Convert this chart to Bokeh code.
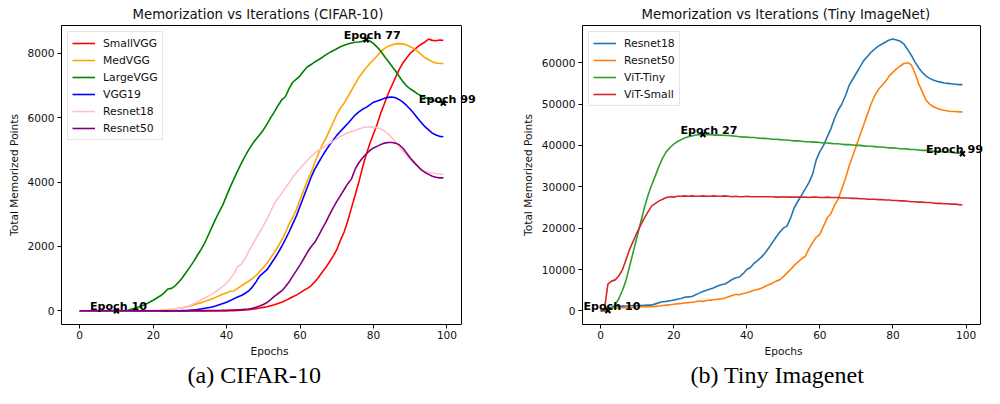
from bokeh.plotting import figure
from bokeh.models import (Range1d, FixedTicker, Legend, LegendItem, Label, Title,
                          BasicTickFormatter, LinearAxis, Span)
from bokeh.layouts import row
from bokeh.embed import file_html
from bokeh.resources import INLINE

epochs = list(range(100))

# ---------------- CIFAR-10 ----------------
small_vgg = [0, 0, 0, 0, 0, 0, 0, 0, 0, 0,
             0, 0, 0, 0, 0, 0, 0, 0, 0, 0,
             0, 0, 0, 0, 0, 0, 0, 0, 0, 0,
             0, 0, 0, 0, 0, 0, 0, 0, 0, 0,
             0, 5, 10, 15, 20, 30, 40, 50, 70, 90,
             110, 130, 160, 190, 230, 270, 320, 380, 440, 490,
             560, 640, 700, 780, 900, 1040, 1200, 1350, 1520, 1700,
             1900, 2200, 2450, 2800, 3200, 3600, 4000, 4450, 4850, 5200,
             5500, 5800, 6150, 6450, 6750, 7000, 7250, 7500, 7700, 7850,
             8000, 8100, 8200, 8280, 8350, 8440, 8400, 8390, 8410, 8400]
med_vgg = [0, 0, 0, 0, 0, 0, 0, 0, 0, 0,
           0, 0, 0, 0, 0, 0, 0, 5, 5, 5,
           10, 15, 20, 30, 40, 50, 60, 80, 100, 125,
           150, 180, 220, 250, 290, 330, 370, 420, 470, 520,
           560, 610, 620, 700, 780, 850, 920, 1000, 1100, 1220,
           1350, 1480, 1650, 1820, 2000, 2200, 2420, 2700, 2900, 3150,
           3450, 3750, 4050, 4300, 4600, 4880, 5150, 5350, 5600, 5850,
           6100, 6300, 6450, 6650, 6850, 7050, 7250, 7400, 7550, 7680,
           7800, 7920, 8050, 8150, 8220, 8260, 8290, 8300, 8290, 8260,
           8200, 8150, 8060, 7960, 7860, 7800, 7740, 7700, 7680, 7680]
large_vgg = [0, 0, 0, 0, 0, 0, 0, 0, 0, 0,
             0, 0, 5, 10, 50, 80, 120, 160, 210, 270,
             330, 400, 470, 560, 680, 700, 780, 900, 1040, 1200,
             1360, 1530, 1720, 1900, 2100, 2350, 2600, 2850, 3080, 3300,
             3580, 3850, 4100, 4350, 4580, 4800, 5000, 5180, 5330, 5470,
             5620, 5800, 6000, 6180, 6380, 6550, 6650, 6900, 7100, 7200,
             7300, 7450, 7580, 7650, 7730, 7800, 7870, 7950, 8020, 8080,
             8140, 8200, 8250, 8290, 8320, 8340, 8350, 8370, 8420, 8380,
             8300, 8190, 8060, 7900, 7750, 7600, 7450, 7280, 7120, 6990,
             6890, 6820, 6740, 6680, 6630, 6590, 6550, 6510, 6480, 6450]
vgg19 = [0, 0, 0, 0, 0, 0, 0, 0, 0, 0,
         0, 0, 0, 0, 0, 0, 0, 0, 0, 0,
         0, 0, 0, 0, 0, 5, 5, 5, 10, 10,
         20, 30, 40, 60, 80, 100, 120, 150, 190, 230,
         270, 320, 380, 430, 480, 540, 620, 740, 900, 1080,
         1180, 1280, 1450, 1620, 1800, 2000, 2220, 2450, 2700, 2950,
         3250, 3550, 3850, 4150, 4400, 4600, 4800, 4980, 5150, 5300,
         5450, 5580, 5700, 5820, 5950, 6080, 6180, 6260, 6320, 6400,
         6480, 6520, 6560, 6600, 6630, 6640, 6620, 6560, 6480, 6380,
         6260, 6130, 5980, 5850, 5720, 5620, 5520, 5460, 5420, 5410]
resnet18_c = [0, 0, 0, 0, 0, 0, 0, 0, 0, 0,
              0, 0, 0, 0, 0, 5, 5, 5, 10, 10,
              10, 10, 15, 20, 30, 40, 55, 75, 100, 130,
              170, 220, 280, 340, 400, 460, 520, 600, 680, 760,
              870, 1000, 1150, 1380, 1450, 1620, 1850, 2050, 2250, 2450,
              2650, 2850, 3100, 3330, 3500, 3650, 3820, 3980, 4150, 4300,
              4420, 4550, 4680, 4800, 4900, 4980, 5050, 5130, 5200, 5270,
              5350, 5420, 5480, 5530, 5570, 5610, 5650, 5690, 5710, 5710,
              5700, 5690, 5650, 5580, 5490, 5380, 5250, 5100, 4960, 4830,
              4700, 4580, 4480, 4400, 4340, 4300, 4280, 4260, 4250, 4240]
resnet50_c = [0, 0, 0, 0, 0, 0, 0, 0, 0, 0,
              0, 0, 0, 0, 0, 0, 0, 0, 0, 0,
              0, 0, 0, 0, 5, 5, 5, 5, 5, 5,
              10, 10, 10, 10, 10, 15, 15, 15, 15, 20,
              20, 25, 30, 35, 40, 50, 60, 80, 110, 150,
              200, 260, 350, 450, 540, 620, 750, 900, 1080, 1250,
              1430, 1620, 1820, 1990, 2130, 2330, 2550, 2750, 2980, 3200,
              3400, 3580, 3770, 3950, 4100, 4400, 4600, 4750, 4870, 4980,
              5060, 5110, 5170, 5210, 5230, 5230, 5210, 5160, 5050, 4900,
              4750, 4620, 4500, 4380, 4300, 4240, 4180, 4150, 4130, 4130]

cifar_names = ["SmallVGG", "MedVGG", "LargeVGG", "VGG19", "Resnet18", "Resnet50"]
cifar_series = [small_vgg, med_vgg, large_vgg, vgg19, resnet18_c, resnet50_c]
cifar_colors = ["red", "orange", "green", "blue", "pink", "purple"]
cifar_ann_x = [10, 78, 99]
cifar_ann_y = [0, 8420, 6450]
cifar_ann_text = ["Epoch 10", "Epoch 77", "Epoch 99"]

# ---------------- Tiny ImageNet ----------------
resnet18_t = [300, 500, 700, 900, 1000, 1100, 1150, 1200, 1250, 1300,
              1300, 1300, 1350, 1400, 1400, 1700, 2000, 2200, 2300, 2450,
              2600, 2800, 3000, 3300, 3400, 3500, 3900, 4300, 4700, 5000,
              5300, 5600, 6000, 6300, 6500, 7000, 7600, 8000, 8200, 9000,
              10000, 10500, 11500, 12200, 13000, 14000, 15200, 16500, 17800, 19000,
              20000, 20500, 22500, 25000, 26500, 28000, 29500, 31000, 33000, 36500,
              38500, 40000, 42000, 44000, 46500, 48500, 50000, 52000, 54500, 56000,
              57500, 59000, 60500, 61500, 62500, 63300, 64000, 64500, 65000, 65500,
              65700, 65500, 65200, 64500, 63200, 61800, 60200, 58800, 57700, 56800,
              56200, 55800, 55500, 55300, 55100, 55000, 54900, 54800, 54700, 54700]
resnet50_t = [300, 400, 500, 600, 650, 700, 750, 800, 850, 900,
              950, 1000, 1000, 1050, 1000, 1100, 1200, 1300, 1400, 1500,
              1600, 1700, 1800, 1900, 2000, 2100, 2200, 2400, 2300, 2500,
              2600, 2700, 2800, 2900, 3100, 3400, 3700, 4000, 3900, 4200,
              4400, 4700, 5000, 5200, 5500, 5900, 6300, 6700, 7200, 7500,
              8300, 9200, 10000, 11000, 11800, 12600, 13200, 15000, 16500, 17800,
              18500, 20500, 22500, 23500, 25500, 27000, 29500, 32000, 35000, 37500,
              40000, 42500, 45000, 47500, 50000, 52000, 53500, 54500, 55500, 56800,
              57700, 58500, 59200, 59800, 60000, 59500, 57500, 55000, 53000, 51000,
              50000, 49400, 49000, 48700, 48500, 48300, 48200, 48200, 48100, 48100]
vit_tiny = [0, 0, 100, 600, 1500, 3000, 5000, 7500, 11000, 14500,
            18000, 21500, 25000, 28000, 30500, 32700, 35000, 37000, 38500, 39500,
            40300, 40900, 41400, 41800, 42100, 42300, 42500, 42600, 42650, 42600,
            42600, 42500, 42500, 42500, 42400, 42400, 42300, 42200, 42100, 42000,
            42000, 41900, 41900, 41800, 41700, 41700, 41600, 41500, 41500, 41400,
            41300, 41300, 41200, 41100, 41100, 41000, 40900, 40900, 40800, 40800,
            40700, 40600, 40600, 40500, 40400, 40400, 40300, 40200, 40200, 40100,
            40000, 40000, 39900, 39800, 39800, 39700, 39600, 39600, 39500, 39400,
            39400, 39300, 39200, 39200, 39100, 39000, 39000, 38900, 38800, 38800,
            38700, 38600, 38600, 38500, 38400, 38400, 38300, 38200, 38100, 38000]
vit_small = [0, 100, 6500, 7200, 7500, 8500, 10000, 12500, 15000, 17000,
             19000, 20800, 22500, 24000, 25400, 26000, 26600, 27000, 27400, 27600,
             27500, 27700, 27700, 27800, 27700, 27800, 27700, 27700, 27800, 27700,
             27700, 27800, 27700, 27700, 27800, 27700, 27600, 27700, 27600, 27600,
             27700, 27600, 27600, 27600, 27600, 27600, 27600, 27600, 27500, 27500,
             27600, 27500, 27500, 27500, 27500, 27500, 27500, 27400, 27500, 27500,
             27400, 27400, 27500, 27400, 27400, 27400, 27300, 27300, 27300, 27200,
             27200, 27100, 27100, 27000, 27000, 27000, 26900, 26900, 26800, 26800,
             26700, 26700, 26600, 26600, 26500, 26400, 26400, 26300, 26300, 26200,
             26200, 26100, 26000, 26000, 25900, 25900, 25800, 25800, 25700, 25600]

tiny_names = ["Resnet18", "Resnet50", "ViT-Tiny", "ViT-Small"]
tiny_series = [resnet18_t, resnet50_t, vit_tiny, vit_small]
tiny_colors = ["#1f77b4", "#ff7f0e", "#2ca02c", "#d62728"]
tiny_ann_x = [2, 28, 99]
tiny_ann_y = [100, 42650, 38000]
tiny_ann_text = ["Epoch 10", "Epoch 27", "Epoch 99"]

cifar_yticks = [0, 2000, 4000, 6000, 8000]
tiny_yticks = [0, 10000, 20000, 30000, 40000, 50000, 60000]
xticks = [0, 20, 40, 60, 80, 100]

FONT = "DejaVu Sans"
H = 388
TOP = 25
FRAME_H = 299


def padded(vals):
    lo, hi = min(vals), max(vals)
    span = hi - lo
    return lo - 0.05 * span, hi + 0.05 * span


def make_panel(title, names, series, colors, ann_x, ann_y, ann_text, ann_dx, yticks,
               width, bl, vis_w, ext, title_off, caption, cap_off):
    allv = [v for s in series for v in s]
    x_lo, x_hi = padded(epochs)
    y_lo, y_hi = padded(allv)
    # the frame is a little wider than the drawn box, so that labels may overhang it
    x_end = x_hi + ext * (x_hi - x_lo) / vis_w
    br = width - bl - vis_w - ext
    p = figure(width=width, height=H, output_backend="svg", toolbar_location=None,
               x_range=Range1d(x_lo, x_end), y_range=Range1d(y_lo, y_hi),
               min_border_left=bl, min_border_right=br, min_border_top=TOP,
               min_border_bottom=H - TOP - FRAME_H)
    p.title.text = title
    p.title.align = "left"
    p.title.offset = title_off
    p.title.text_font = FONT
    p.title.text_font_size = "13.3px"
    p.title.text_font_style = "normal"
    p.title.text_color = "#111111"
    p.title.standoff = 8
    p.grid.visible = False
    p.outline_line_color = None
    p.background_fill_color = "white"
    p.border_fill_color = "white"
    for ax in (p.xaxis[0], p.yaxis[0]):
        ax.axis_line_color = "black"
        ax.axis_line_width = 1
        ax.major_tick_line_color = "black"
        ax.major_tick_out = 4
        ax.major_tick_in = 0
        ax.minor_tick_line_color = None
        ax.major_label_text_font = FONT
        ax.major_label_text_font_size = "10.6px"
        ax.major_label_text_color = "#111111"
        ax.axis_label_text_font = FONT
        ax.axis_label_text_font_size = "10.6px"
        ax.axis_label_text_font_style = "normal"
        ax.axis_label_text_color = "#111111"
    p.xaxis[0].major_label_standoff = 2
    p.xaxis[0].axis_label_standoff = 3
    p.yaxis[0].major_label_standoff = 3
    p.yaxis[0].axis_label_standoff = 5
    p.xaxis[0].ticker = FixedTicker(ticks=xticks)
    p.xaxis[0].bounds = (x_lo, x_hi)
    p.yaxis[0].ticker = FixedTicker(ticks=yticks)
    p.yaxis[0].formatter = BasicTickFormatter(use_scientific=False)
    p.xaxis[0].axis_label = "Epochs"
    p.yaxis[0].axis_label = "Total Memorized Points"

    # top spine
    top_ax = LinearAxis(ticker=FixedTicker(ticks=[]), bounds=(x_lo, x_hi),
                        axis_line_color="black", axis_line_width=1,
                        major_tick_out=0, major_tick_in=0, minor_tick_out=0,
                        minor_tick_in=0, major_label_standoff=0,
                        axis_label_standoff=0)
    p.add_layout(top_ax, "above")
    # right spine
    p.add_layout(Span(location=x_hi, dimension="height", line_color="black",
                      line_width=1))

    items = []
    for name, s, c in zip(names, series, colors):
        r = p.line(epochs, s, line_color=c, line_width=1.6)
        items.append(LegendItem(label=name, renderers=[r]))
    leg = Legend(items=items, location="top_left", margin=6, padding=4,
                 spacing=3, glyph_width=23, glyph_height=14, label_height=14,
                 label_standoff=8, label_text_font=FONT,
                 label_text_font_size="10.8px", label_text_color="#111111",
                 border_line_color="#cccccc", border_line_width=1,
                 background_fill_alpha=0.8)
    p.add_layout(leg)

    p.scatter(ann_x, ann_y, marker="x", size=7, line_color="black", line_width=2)
    for ax_, ay_, at_, dx in zip(ann_x, ann_y, ann_text, ann_dx):
        p.add_layout(Label(x=ax_, y=ay_, text=at_, x_offset=dx, y_offset=4,
                           text_align="center", text_baseline="alphabetic",
                           text_font=FONT, text_font_size="11.1px",
                           text_font_style="bold", text_color="black"))

    cap = Title(text=caption, align="left", offset=cap_off,
                text_font="Liberation Serif", text_font_size="24px",
                text_font_style="normal", text_color="black", standoff=0)
    p.add_layout(cap, "below")
    return p


p1 = make_panel("Memorization vs Iterations (CIFAR-10)", cifar_names, cifar_series,
                cifar_colors, cifar_ann_x, cifar_ann_y, cifar_ann_text, [2, 6, 4],
                cifar_yticks, 498, 61, 400, 16, 71, "(a) CIFAR-10", 126)
p2 = make_panel("Memorization vs Iterations (Tiny ImageNet)", tiny_names, tiny_series,
                tiny_colors, tiny_ann_x, tiny_ann_y, tiny_ann_text, [4, 6, -8],
                tiny_yticks, 486, 84, 398, 4, 59, "(b) Tiny Imagenet", 108)

layout = row(p1, p2, spacing=0)
open("out.html", "w").write(file_html(layout, INLINE))
